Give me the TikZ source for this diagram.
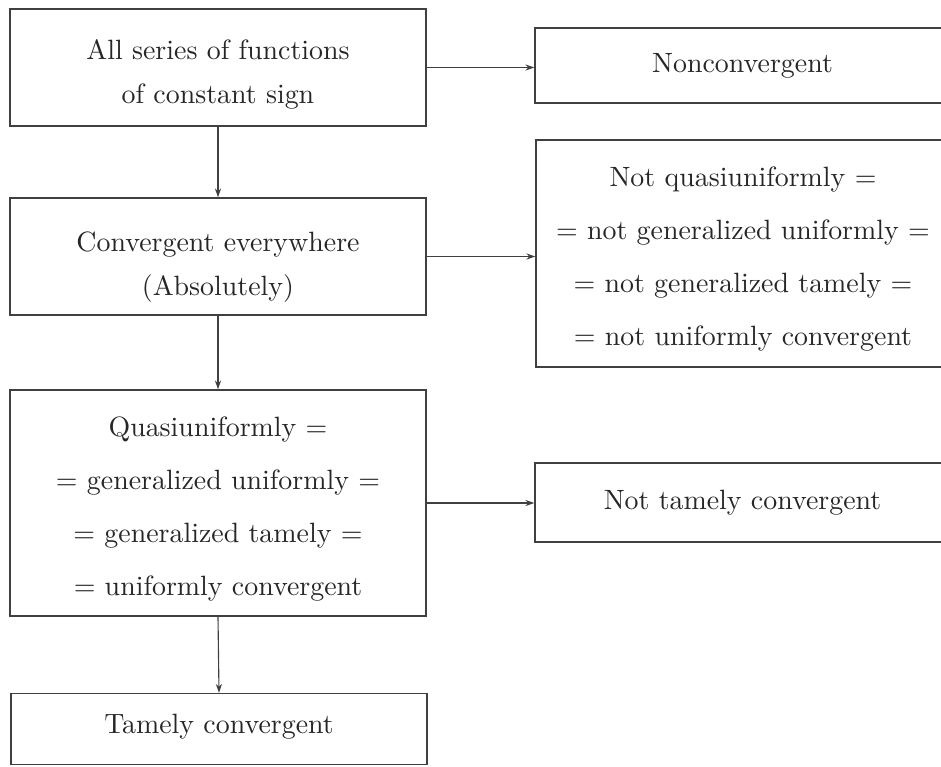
\documentclass[tikz,border=0pt]{standalone}
\usetikzlibrary{arrows.meta,calc}
\begin{document}
\begin{tikzpicture}[x=0.3584pt,y=-0.3584pt,
  box/.style={draw=black!75, line width=0.5pt, inner sep=0pt},
  txt/.style={inner sep=0pt, align=center, text=black!85},
  two/.style={font=\fontsize{10}{15.8}\selectfont},
  four/.style={font=\fontsize{10}{19.1}\selectfont},
  one/.style={font=\fontsize{10}{12}\selectfont},
  arr/.style={draw=black!75, line width=0.4pt, -{Stealth[length=3.2pt,width=2.2pt]}}]
\useasboundingbox (0,0) rectangle (941,766);
\clip (0,0) rectangle (941,766);
% boxes
\node[box,minimum width={416*0.3584pt},minimum height={117*0.3584pt}] (b1) at (218,67.5) {};
\node[box,minimum width={415*0.3584pt},minimum height={75*0.3584pt}] (b2) at (742.5,65.5) {};
\node[box,minimum width={416*0.3584pt},minimum height={117*0.3584pt}] (b3) at (218,256.5) {};
\node[box,minimum width={414*0.3584pt},minimum height={227*0.3584pt}] (b4) at (743,253.5) {};
\node[box,minimum width={416*0.3584pt},minimum height={226*0.3584pt}] (b5) at (218,503) {};
\node[box,minimum width={415*0.3584pt},minimum height={79*0.3584pt}] (b6) at (742.5,502.5) {};
\node[box,minimum width={416*0.3584pt},minimum height={71*0.3584pt}] (b7) at (219,729) {};
% texts
\node[txt,two] (t1) at (218,74) {All series of functions\\of constant sign};
\node[txt,one] (t2) at (742.5,66) {Nonconvergent};
\node[txt,two] (t3) at (218,267.5) {Convergent everywhere\\(Absolutely)};
\node[txt,four] (t4) at (743,259) {Not quasiuniformly $=$\\$=$ not generalized uniformly $=$\\$=$ not generalized tamely $=$\\$=$ not uniformly convergent};
\node[txt,four] (t5) at (218,509) {Quasiuniformly $=$\\$=$ generalized uniformly $=$\\$=$ generalized tamely $=$\\$=$ uniformly convergent};
\node[txt,one] (t6) at (742.5,503) {Not tamely convergent};
\node[txt,one] (t7) at (219,727) {Tamely convergent};
% connectors
\draw[arr] (b1.east) -- (b1.east -| b2.west);
\draw[arr] (b3.east) -- (b3.east -| b4.west);
\draw[arr] (b5.east) -- (b5.east -| b6.west);
\draw[arr] (b1.south) -- (b3.north);
\draw[arr] (b3.south) -- (b5.north);
\draw[arr] (b5.south) -- (b7.north);
\end{tikzpicture}
\end{document}
